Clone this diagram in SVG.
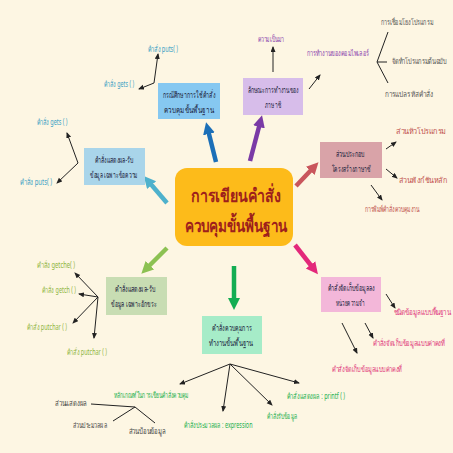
<svg xmlns="http://www.w3.org/2000/svg" width="453" height="453" viewBox="0 0 453 453">
<style>
text{font-family:"Noto Sans","DejaVu Sans",sans-serif;text-anchor:middle}
.n{font-size:8.5px;fill:#1c2340}
.c{font-size:8px}
.bl{fill:#3a9fc4}.pu{fill:#8a3fae}.gr{fill:#555}.ro{fill:#c0504d}.ol{fill:#8db53e}.pk{fill:#e0357a}.mn{fill:#22b04f}.dk{fill:#444}
.thin{stroke:#222;stroke-width:1;fill:none}
.thinA{stroke:#222;stroke-width:1;fill:none;marker-end:url(#ah)}
.thick{stroke-width:4.5;fill:none}
</style>
<defs>
<marker id="ah" markerUnits="userSpaceOnUse" markerWidth="6" markerHeight="6" refX="5" refY="2.5" orient="auto"><path d="M0,0 L6,2.5 L0,5 z" fill="#222"/></marker>
<marker id="mB" markerUnits="userSpaceOnUse" markerWidth="14" markerHeight="14" refX="4" refY="6" orient="auto"><path d="M0,0 L12,6 L0,12 z" fill="#1b6fb8"/></marker>
<marker id="mP" markerUnits="userSpaceOnUse" markerWidth="14" markerHeight="14" refX="4" refY="6" orient="auto"><path d="M0,0 L12,6 L0,12 z" fill="#7a3aa6"/></marker>
<marker id="mR" markerUnits="userSpaceOnUse" markerWidth="14" markerHeight="14" refX="4" refY="6" orient="auto"><path d="M0,0 L12,6 L0,12 z" fill="#c9565c"/></marker>
<marker id="mT" markerUnits="userSpaceOnUse" markerWidth="14" markerHeight="14" refX="4" refY="6" orient="auto"><path d="M0,0 L12,6 L0,12 z" fill="#4eb1cc"/></marker>
<marker id="mO" markerUnits="userSpaceOnUse" markerWidth="14" markerHeight="14" refX="4" refY="6" orient="auto"><path d="M0,0 L12,6 L0,12 z" fill="#8cc152"/></marker>
<marker id="mG" markerUnits="userSpaceOnUse" markerWidth="14" markerHeight="14" refX="4" refY="6" orient="auto"><path d="M0,0 L12,6 L0,12 z" fill="#13ad52"/></marker>
<marker id="mM" markerUnits="userSpaceOnUse" markerWidth="14" markerHeight="14" refX="4" refY="6" orient="auto"><path d="M0,0 L12,6 L0,12 z" fill="#e3287a"/></marker>
</defs>
<rect width="453" height="453" fill="#fdf6e3"/>

<g id="connectors">
<line class="thick" x1="216" y1="162" x2="208" y2="130" stroke="#1b6fb8" marker-end="url(#mB)"/>
<line class="thick" x1="250" y1="161" x2="260" y2="123" stroke="#7a3aa6" marker-end="url(#mP)"/>
<line class="thick" x1="296" y1="186" x2="313" y2="168" stroke="#c9565c" marker-end="url(#mR)"/>
<line class="thick" x1="167" y1="203" x2="149" y2="182" stroke="#4eb1cc" marker-end="url(#mT)"/>
<line class="thick" x1="167" y1="248" x2="147" y2="268" stroke="#8cc152" marker-end="url(#mO)"/>
<line class="thick" x1="234" y1="266" x2="234" y2="302" stroke="#13ad52" marker-end="url(#mG)"/>
<line class="thick" x1="295" y1="245" x2="313" y2="268" stroke="#e3287a" marker-end="url(#mM)"/>

<line class="thinA" x1="154" y1="83" x2="158" y2="54"/>
<line class="thinA" x1="154" y1="83" x2="139" y2="89"/>

<line class="thinA" x1="78" y1="163" x2="67" y2="133"/>
<line class="thinA" x1="78" y1="163" x2="57" y2="183"/>

<line class="thinA" x1="273" y1="72" x2="273" y2="47"/>
<line class="thinA" x1="309" y1="89" x2="320" y2="75"/>
<line class="thin" x1="377" y1="62" x2="388" y2="32"/>
<line class="thin" x1="377" y1="62" x2="387" y2="62"/>
<line class="thin" x1="377" y1="62" x2="388" y2="83"/>

<line class="thinA" x1="386" y1="149" x2="396" y2="142"/>
<line class="thinA" x1="386" y1="169" x2="397" y2="178"/>
<line class="thinA" x1="371" y1="185" x2="382" y2="200"/>

<line class="thinA" x1="98" y1="297" x2="75" y2="273"/>
<line class="thinA" x1="98" y1="297" x2="79" y2="294"/>
<line class="thinA" x1="98" y1="297" x2="73" y2="323"/>
<line class="thinA" x1="98" y1="297" x2="94" y2="338"/>

<line class="thinA" x1="386" y1="294" x2="395" y2="308"/>
<line class="thinA" x1="365" y1="323" x2="373" y2="338"/>
<line class="thinA" x1="342" y1="323" x2="357" y2="353"/>

<line class="thinA" x1="230" y1="364" x2="180" y2="384"/>
<line class="thinA" x1="230" y1="364" x2="223" y2="411"/>
<line class="thinA" x1="230" y1="364" x2="272" y2="405"/>
<line class="thinA" x1="230" y1="364" x2="299" y2="383"/>

<line class="thin" x1="91" y1="404" x2="135" y2="407"/>
<line class="thin" x1="135" y1="407" x2="113" y2="421"/>
<line class="thin" x1="135" y1="407" x2="155" y2="423"/>
</g>

<g id="center">
<rect x="175" y="168" width="118" height="78" rx="12" fill="#fdbb1a"/>
<text x="236" y="202" font-size="18" fill="#9e1f1c" font-weight="bold" textLength="90" lengthAdjust="spacingAndGlyphs">การเขียนคำสั่ง</text>
<text x="236" y="232" font-size="18" fill="#9e1f1c" font-weight="bold" textLength="103" lengthAdjust="spacingAndGlyphs">ควบคุมขั้นพื้นฐาน</text>
</g>

<g id="n-case">
<rect x="158" y="83" width="62" height="36" fill="#86c8f1"/>
<text class="n" x="189" y="98" textLength="52" lengthAdjust="spacingAndGlyphs">กรณีศึกษาการใช้คำสั่ง</text>
<text class="n" x="189" y="113" textLength="50" lengthAdjust="spacingAndGlyphs">ควบคุมขั้นพื้นฐาน</text>
<text class="c bl" x="163" y="52" textLength="30" lengthAdjust="spacingAndGlyphs">คำสั่ง puts( )</text>
<text class="c bl" x="119" y="87" textLength="30" lengthAdjust="spacingAndGlyphs">คำสั่ง gets ( )</text>
</g>

<g id="n-lang">
<rect x="243" y="78" width="60" height="37" fill="#d7bdea"/>
<text class="n" x="273" y="93" textLength="51" lengthAdjust="spacingAndGlyphs">ลักษณะการทำงานของ</text>
<text class="n" x="273" y="108" textLength="16" lengthAdjust="spacingAndGlyphs">ภาษาซี</text>
<text class="c pu" x="271" y="42" textLength="26" lengthAdjust="spacingAndGlyphs">ความเป็นมา</text>
<text class="c pu" x="338" y="56" textLength="62" lengthAdjust="spacingAndGlyphs">การทำงานของคอมไพเลอร์</text>
<text class="c gr" x="407" y="25" textLength="52" lengthAdjust="spacingAndGlyphs">การเชื่อมโยงโปรแกรม</text>
<text class="c gr" x="419" y="64" textLength="55" lengthAdjust="spacingAndGlyphs">จัดทำโปรแกรมต้นฉบับ</text>
<text class="c gr" x="409" y="97" textLength="48" lengthAdjust="spacingAndGlyphs">การแปลรหัสคำสั่ง</text>
</g>

<g id="n-struct">
<rect x="320" y="142" width="62" height="36" fill="#d9a3a8"/>
<text class="n" x="350" y="157" textLength="29" lengthAdjust="spacingAndGlyphs">ส่วนประกอบ</text>
<text class="n" x="351" y="172" textLength="39" lengthAdjust="spacingAndGlyphs">โครงสร้างภาษาซี</text>
<text class="c ro" x="421" y="134" textLength="50" lengthAdjust="spacingAndGlyphs">ส่วนหัวโปรแกรม</text>
<text class="c ro" x="423" y="183" textLength="48" lengthAdjust="spacingAndGlyphs">ส่วนฟังก์ชันหลัก</text>
<text class="c ro" x="392" y="212" textLength="54" lengthAdjust="spacingAndGlyphs">การพิมพ์คำสั่งควบคุมงาน</text>
</g>

<g id="n-text">
<rect x="84" y="148" width="61" height="37" fill="#a9d5ea"/>
<text class="n" x="114" y="163" textLength="39" lengthAdjust="spacingAndGlyphs">คำสั่งแสดงผล-รับ</text>
<text class="n" x="114" y="178" textLength="48" lengthAdjust="spacingAndGlyphs">ข้อมูล เฉพาะข้อความ</text>
<text class="c bl" x="52" y="125" textLength="31" lengthAdjust="spacingAndGlyphs">คำสั่ง gets ( )</text>
<text class="c bl" x="36" y="185" textLength="32" lengthAdjust="spacingAndGlyphs">คำสั่ง puts( )</text>
</g>

<g id="n-char">
<rect x="106" y="277" width="61" height="38" fill="#c8ddb3"/>
<text class="n" x="135" y="292" textLength="40" lengthAdjust="spacingAndGlyphs">คำสั่งแสดงผล-รับ</text>
<text class="n" x="134" y="307" textLength="46" lengthAdjust="spacingAndGlyphs">ข้อมูล เฉพาะอักขระ</text>
<text class="c ol" x="56" y="268" textLength="38" lengthAdjust="spacingAndGlyphs">คำสั่ง getche( )</text>
<text class="c ol" x="59" y="293" textLength="34" lengthAdjust="spacingAndGlyphs">คำสั่ง getch ( )</text>
<text class="c ol" x="47" y="330" textLength="40" lengthAdjust="spacingAndGlyphs">คำสั่ง putchar ( )</text>
<text class="c ol" x="87" y="355" textLength="40" lengthAdjust="spacingAndGlyphs">คำสั่ง putchar ( )</text>
</g>

<g id="n-mem">
<rect x="321" y="277" width="60" height="35" fill="#f3b7d9"/>
<text class="n" x="351" y="291" textLength="47" lengthAdjust="spacingAndGlyphs">คำสั่งจัดเก็บข้อมูลลง</text>
<text class="n" x="350" y="306" textLength="29" lengthAdjust="spacingAndGlyphs">หน่วยความจำ</text>
<text class="c pk" x="422" y="315" textLength="57" lengthAdjust="spacingAndGlyphs">ชนิดข้อมูลแบบพื้นฐาน</text>
<text class="c pk" x="409" y="346" textLength="72" lengthAdjust="spacingAndGlyphs">คำสั่งจัดเก็บข้อมูลแบบค่าคงที่</text>
<text class="c pk" x="367" y="372" textLength="70" lengthAdjust="spacingAndGlyphs">คำสั่งจัดเก็บข้อมูลแบบค่าคงที่</text>
</g>

<g id="n-basic">
<rect x="202" y="316" width="60" height="38" fill="#a6ecc8"/>
<text class="n" x="232" y="331" textLength="40" lengthAdjust="spacingAndGlyphs">คำสั่งควบคุมการ</text>
<text class="n" x="231" y="346" textLength="45" lengthAdjust="spacingAndGlyphs">ทำงานขั้นพื้นฐาน</text>
<text class="c mn" x="151" y="398" textLength="75" lengthAdjust="spacingAndGlyphs">หลักเกณฑ์ในการเขียนคำสั่งควบคุม</text>
<text class="c mn" x="218" y="428" textLength="69" lengthAdjust="spacingAndGlyphs">คำสั่งประมวลผล : expression</text>
<text class="c mn" x="282" y="419" textLength="30" lengthAdjust="spacingAndGlyphs">คำสั่งรับข้อมูล</text>
<text class="c mn" x="316" y="399" textLength="58" lengthAdjust="spacingAndGlyphs">คำสั่งแสดงผล : printf ( )</text>
<text class="c dk" x="71" y="406" textLength="32" lengthAdjust="spacingAndGlyphs">ส่วนแสดงผล</text>
<text class="c dk" x="90" y="428" textLength="34" lengthAdjust="spacingAndGlyphs">ส่วนประมวลผล</text>
<text class="c dk" x="147" y="434" textLength="37" lengthAdjust="spacingAndGlyphs">ส่วนป้อนข้อมูล</text>
</g>
</svg>
